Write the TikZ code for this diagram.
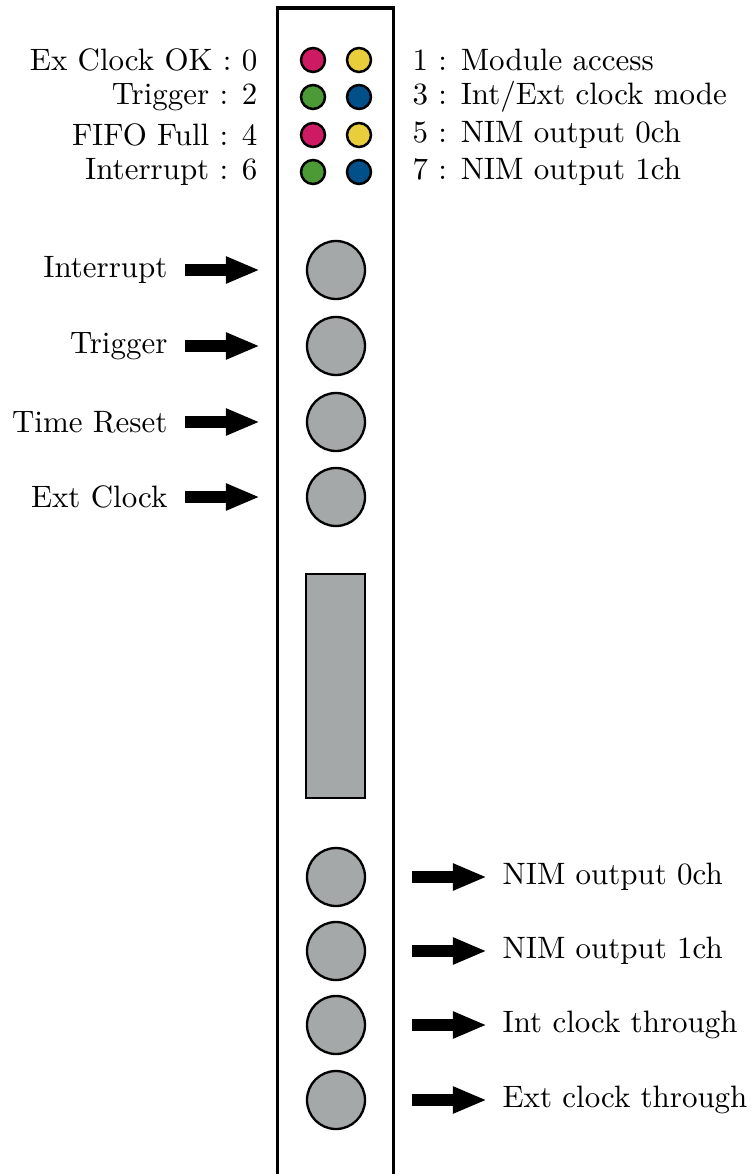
\documentclass[tikz,border=0pt]{standalone}
\usetikzlibrary{arrows.meta}
\definecolor{ledred}{HTML}{CD1A63}
\definecolor{ledyel}{HTML}{EACD3A}
\definecolor{ledgrn}{HTML}{4C9A35}
\definecolor{ledblu}{HTML}{01508A}
\definecolor{conngray}{HTML}{A5A8A8}
\begin{document}
\begin{tikzpicture}[x=0.323pt,y=-0.323pt,
  led/.style={circle,draw=black,line width=0.8pt,minimum size=24*0.323pt,inner sep=0pt},
  conn/.style={circle,draw=black,line width=0.75pt,fill=conngray,minimum size=58*0.323pt,inner sep=0pt},
  lbl/.style={inner sep=0pt,font=\fontsize{10pt}{12pt}\selectfont},
  bigarrow/.style={line width=3.6pt,-{Triangle[length=11pt,width=8pt]}}]
\useasboundingbox (0,0) rectangle (755,1174);
\begin{scope}
\clip (0,0) rectangle (755,1174);
\draw[line width=1.25pt] (277.5,1200) -- (277.5,8) -- (393.5,8) -- (393.5,1200);
\end{scope}
% LEDs
\foreach \r/\y/\ca/\cb in {0/60/ledred/ledyel,1/97/ledgrn/ledblu,2/135/ledred/ledyel,3/172/ledgrn/ledblu}{
  \node[led,fill=\ca] (la\r) at (313,\y) {};
  \node[led,fill=\cb] (lb\r) at (359,\y) {};
}
\node[lbl,anchor=east] (t0) at (258,60) {Ex Clock OK : 0};
\node[lbl,anchor=east] (t2) at (258,97) {Trigger : 2};
\node[lbl,anchor=east] (t4) at (258,135) {FIFO Full : 4};
\node[lbl,anchor=east] (t6) at (258,172) {Interrupt : 6};
\node[lbl,anchor=west] (t1) at (412,60) {1 : Module access};
\node[lbl,anchor=west] (t3) at (412,97) {3 : Int/Ext clock mode};
\node[lbl,anchor=west] (t5) at (412,135) {5 : NIM output 0ch};
\node[lbl,anchor=west] (t7) at (412,172) {7 : NIM output 1ch};
% input connectors
\foreach \i/\y/\txt in {1/270/Interrupt,2/346/Trigger,3/422/Time Reset,4/497/Ext Clock}{
  \node[conn] (in\i) at (336,\y) {};
  \node[lbl,anchor=east] (inl\i) at (168,\y) {\txt};
  \coordinate (ia\i) at (185,\y);
  \coordinate (ib\i) at (260,\y);
  \draw[bigarrow] (ia\i) -- (ib\i);
}
% display
\node[draw=black,line width=0.75pt,fill=conngray,minimum width=59*0.323pt,minimum height=224*0.323pt,inner sep=0pt] (disp) at (335.5,686) {};
% output connectors
\foreach \i/\y/\txt in {1/877/NIM output 0ch,2/951/NIM output 1ch,3/1025/Int clock through,4/1100/Ext clock through}{
  \node[conn] (out\i) at (336,\y) {};
  \coordinate (oa\i) at (412,\y);
  \coordinate (ob\i) at (487,\y);
  \draw[bigarrow] (oa\i) -- (ob\i);
  \node[lbl,anchor=west] (outl\i) at (502,\y) {\txt};
}
\end{tikzpicture}
\end{document}
